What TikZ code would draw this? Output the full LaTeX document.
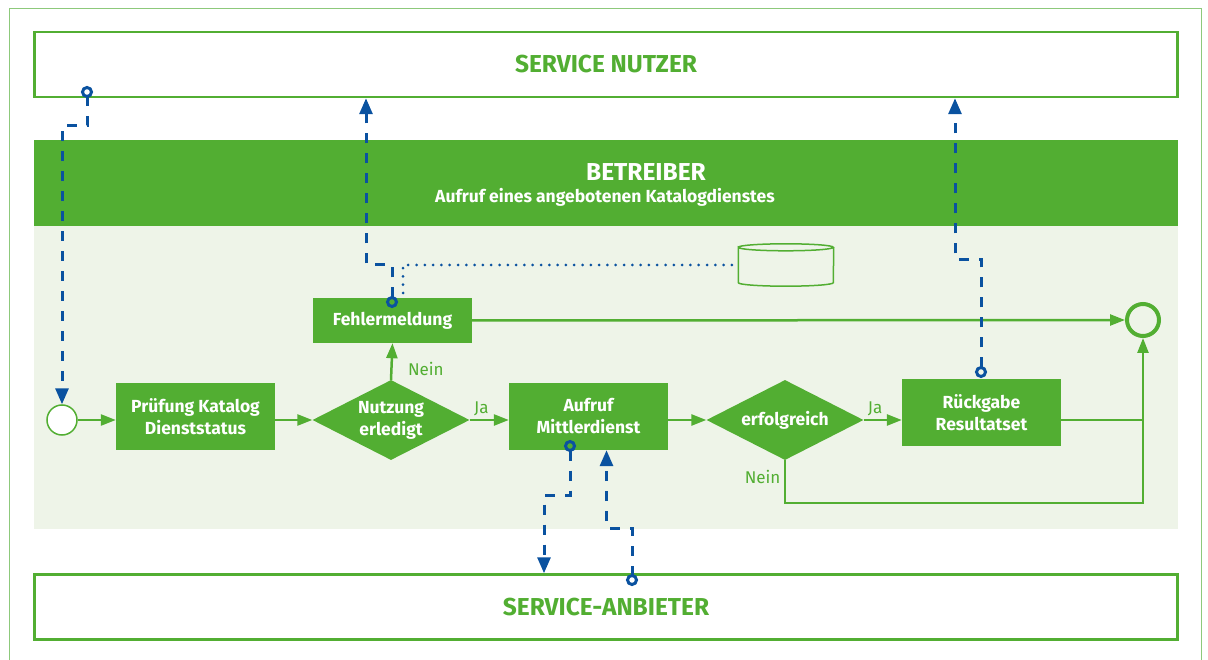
\documentclass[tikz,border=0pt]{standalone}
\usepackage{fontspec}
\setmainfont{Fira Sans}
\usetikzlibrary{shapes.geometric,arrows.meta}

\definecolor{gruen}{HTML}{52AE32}
\definecolor{hellgruen}{HTML}{EEF4E8}
\definecolor{blau}{HTML}{0A52A0}
\definecolor{rahmen}{HTML}{8DC97B}

\begin{document}
\begin{tikzpicture}[
  x=1pt, y=-1pt,
  every node/.style={font=\fontsize{17.5}{22}\selectfont\bfseries, align=center},
  aktion/.style={fill=gruen, text=white, minimum width=159pt, minimum height=67pt, inner sep=0pt},
  entscheid/.style={diamond, aspect=2, fill=gruen, text=white, minimum width=157pt, minimum height=80pt, inner sep=0pt},
  bahn/.style={draw=gruen, line width=2.5pt, fill=white, text=gruen, minimum width=1143pt, minimum height=65pt,
    font=\fontsize{24.5}{28}\selectfont\bfseries},
  fluss/.style={draw=gruen, line width=2.5pt, -{Triangle[length=15pt,width=11pt]}},
  nachricht/.style={draw=blau, line width=3pt, dash pattern=on 10pt off 10pt,
    {Circle[open,length=12pt,width=12pt]}-{Triangle[length=16pt,width=13pt]}},
  marke/.style={text=gruen, font=\fontsize{17}{20}\selectfont}
]
\useasboundingbox (0,0) rectangle (1208,660);

% Rahmen und Bahnen
\draw[rahmen, line width=1pt] (9,9) rectangle (1201,690);
\fill[hellgruen] (34,225) rectangle (1178,529);
\node[bahn] (nutzer) at (606,64.5) {SERVICE NUTZER};
\node[bahn] (anbieter) at (606,607) {SERVICE-ANBIETER};
\node[fill=gruen, minimum width=1144pt, minimum height=86pt, inner sep=0pt] (betreiber) at (606,183) {};
\node[text=white, font=\fontsize{24.5}{28}\selectfont\bfseries] (titel) at (646,172) {BETREIBER};
\node[text=white] (untertitel) at (605,197) {Aufruf eines angebotenen Katalogdienstes};

% Ablauf
\node[circle, draw=gruen, line width=1.5pt, fill=white, minimum size=30pt, inner sep=0pt] (start) at (62,420) {};
\node[aktion] (pruef) at (195.5,416.5) {Prüfung Katalog\\Dienststatus};
\node[entscheid] (nutzung) at (391,420) {Nutzung\\erledigt};
\node[aktion, minimum height=45pt] (fehler) at (392.5,320.5) {Fehlermeldung};
\node[aktion] (aufruf) at (588.5,416.5) {Aufruf\\Mittlerdienst};
\node[entscheid] (erfolg) at (785,420) {erfolgreich};
\node[aktion] (rueck) at (981.5,412.5) {Rückgabe\\Resultatset};
\node[circle, draw=gruen, line width=4pt, minimum size=32pt, inner sep=0pt] (ende) at (1143,320) {};
\node[minimum width=95pt, minimum height=43pt, inner sep=0pt] (db) at (786,265) {};
\draw[gruen, line width=1.5pt] ([yshift=-4pt]db.north west)
  arc[start angle=180, end angle=-180, x radius=47.5pt, y radius=3.5pt]
  -- ([yshift=4pt]db.south west)
  arc[start angle=180, end angle=360, x radius=47.5pt, y radius=3.5pt]
  -- ([yshift=-4pt]db.north east);

\draw[fluss] (start.east) -- (start.east -| pruef.west);
\draw[fluss] (pruef.east |- start) -- (nutzung.west);
\draw[fluss] (nutzung.north) -- node[marke, pos=0.3, anchor=west, xshift=12pt] {Nein} (fehler.south);
\draw[fluss] (nutzung.east) -- node[marke, pos=0.3, above] {Ja} (nutzung.east -| aufruf.west);
\draw[fluss] (aufruf.east |- nutzung) -- (erfolg.west);
\draw[fluss] (erfolg.east) -- node[marke, pos=0.3, above] {Ja} (erfolg.east -| rueck.west);
\draw[fluss] (erfolg.south) -- node[marke, pos=0.4, left] {Nein} ++(0,43) -| (ende.south);
\draw[gruen, line width=2.5pt] (rueck.east |- erfolg) -- (ende |- erfolg);
\draw[fluss] (fehler.east) -- (ende.west);

% Nachrichten
\coordinate (m1) at (87,86);
\coordinate (m2) at (392,308);
\coordinate (m3) at (403,293);
\coordinate (m4) at (981,378);
\coordinate (m5) at (570,440);
\coordinate (m6) at (632,586);
\draw[nachricht] (m1) -- ++(0,40) -| (start.north);
\draw[nachricht] (m2) -- ++(0,-43) -| ([xshift=-240pt]nutzer.south);
\draw[blau, line width=3pt, line cap=round, dash pattern=on 0pt off 8.3pt] (m3) |- (db.west);
\draw[nachricht] (m4) -- ++(0,-118) -| ([xshift=349pt]nutzer.south);
\draw[nachricht] (m5) -- ++(0,55) -| ([xshift=-62pt]anbieter.north);
\draw[nachricht] (m6) -- ++(0,-58) -| ([xshift=18pt]aufruf.south);

\end{tikzpicture}
\end{document}
